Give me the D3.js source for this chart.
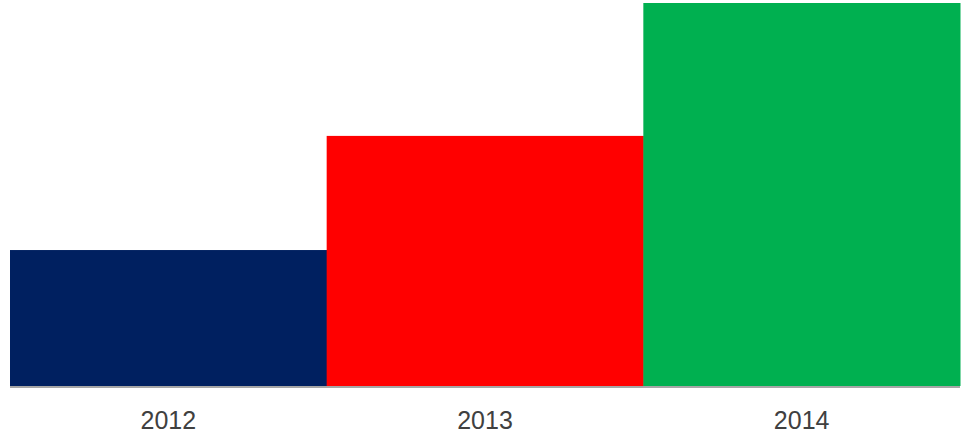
<!DOCTYPE html>
<html><head><meta charset="utf-8">
<script src="https://cdn.jsdelivr.net/npm/d3@7"></script>
<style>body{margin:0;background:#fff;}svg{display:block;}</style>
</head><body>
<svg id="c" width="961" height="434"></svg>
<script>
const categories = ["2012", "2013", "2014"];
const values = [35.5, 65.3, 100];
const colors = ["#002060", "#FF0000", "#00B050"];

const svg = d3.select("#c");
const margin = {left: 10, right: 1, top: 3, bottom: 48};
const W = 961, H = 434;
const x = d3.scaleBand().domain(categories).range([margin.left, W - margin.right]).padding(0);
const y = d3.scaleLinear().domain([0, d3.max(values)]).range([H - margin.bottom, margin.top]);

svg.selectAll("rect.bar").data(categories).join("rect")
  .attr("class", "bar")
  .attr("x", d => x(d))
  .attr("width", x.bandwidth() + 0.5)
  .attr("y", (d, i) => y(values[i]))
  .attr("height", (d, i) => y(0) - y(values[i]))
  .attr("fill", (d, i) => colors[i]);

const axis = svg.append("g").attr("transform", `translate(0,${y(0)})`)
  .call(d3.axisBottom(x).tickSize(0));
axis.select(".domain").attr("stroke", "#A6A6A6").attr("stroke-width", 2).attr("d", `M${margin.left},1H${W - margin.right}`);
axis.selectAll("text").attr("y", 43).attr("dy", 0)
  .attr("font-family", "Liberation Sans, Arial, sans-serif").attr("font-size", 25).attr("fill", "#404040");
</script>
</body></html>
